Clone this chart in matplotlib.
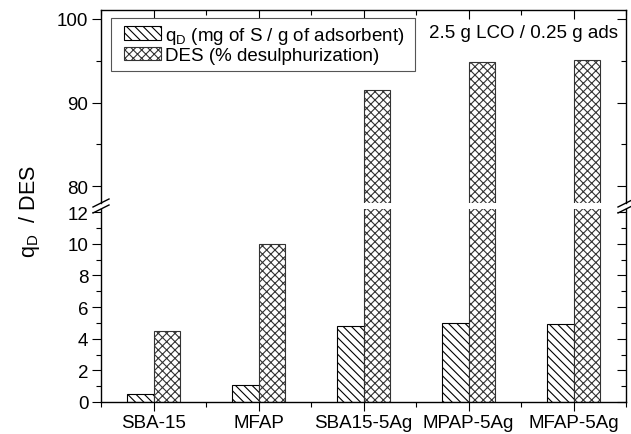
import numpy as np
import matplotlib
matplotlib.use("Agg")
import matplotlib.pyplot as plt
from matplotlib.lines import Line2D
from matplotlib.patches import Rectangle
from matplotlib.ticker import MultipleLocator

# data
samples = ["SBA-15", "MFAP", "SBA15-5Ag", "MPAP-5Ag", "MFAP-5Ag"]
q_d = [0.5, 1.05, 4.78, 4.97, 4.93]          # mg of S / g of adsorbent
des = [4.5, 10.0, 91.5, 94.8, 95.1]          # % desulphurization

plt.rcParams['font.family'] = ['Liberation Sans', 'DejaVu Sans']
plt.rcParams['hatch.linewidth'] = 0.8
plt.rcParams['mathtext.fontset'] = 'custom'
plt.rcParams['mathtext.rm'] = 'Liberation Sans'

W, H = 631, 435
fig = plt.figure(figsize=(W / 100, H / 100), dpi=100)

def fx(px):
    return px / W

def fy(py):
    return 1 - py / H

x_left, x_right = 101, 626
top_px = 11
gap_top, gap_bot = 204, 210
ax_top = fig.add_axes([fx(x_left), fy(gap_top), fx(x_right) - fx(x_left), fy(top_px) - fy(gap_top)])
ax_bot = fig.add_axes([fx(x_left), fy(403), fx(x_right) - fx(x_left), fy(gap_bot) - fy(403)])

x = np.arange(1, len(samples) + 1)
w = 0.25
fs = 13.5
maj, mnr = 6.5, 3.5

for ax in (ax_top, ax_bot):
    ax.bar(x - w / 2, q_d, w, facecolor='white', edgecolor='black', linewidth=0.8,
           hatch='\\\\\\\\', label='q$_\\mathregular{D}$ (mg of S / g of adsorbent)')
    ax.bar(x + w / 2, des, w, facecolor='white', edgecolor='#333333', linewidth=0.8,
           hatch='xxxx', label='DES (% desulphurization)')
    ax.set_xlim(0.5, 5.5)
    for s in ax.spines.values():
        s.set_linewidth(1.0)
    ax.tick_params(which='both', width=0.8, labelsize=fs)
    ax.tick_params(axis='y', which='major', length=maj, direction='out', pad=2.5)
    ax.tick_params(axis='y', which='minor', length=mnr, direction='out')
    ax.set_xticks(x)
    ax.set_xticks(np.arange(0.5, 6, 1), minor=True)

# upper part
ax_top.set_ylim(80 - (gap_top - 187) / 8.35, 100 + (20 - top_px) / 8.35)
ax_top.yaxis.set_major_locator(MultipleLocator(10))
ax_top.yaxis.set_minor_locator(MultipleLocator(5))
ax_top.spines['bottom'].set_visible(False)
ax_top.tick_params(axis='x', which='both', bottom=False, labelbottom=False,
                   top=True, direction='in')
ax_top.tick_params(axis='x', which='major', length=maj)
ax_top.tick_params(axis='x', which='minor', length=mnr)

# lower part
ax_bot.set_ylim(0, 12 + (213 - gap_bot) / 15.83)
ax_bot.yaxis.set_major_locator(MultipleLocator(2))
ax_bot.yaxis.set_minor_locator(MultipleLocator(1))
ax_bot.spines['top'].set_visible(False)
ax_bot.set_xticklabels(samples)
ax_bot.tick_params(axis='x', which='major', length=maj, direction='out', pad=2)
ax_bot.tick_params(axis='x', which='minor', length=mnr, direction='out')

# inward ticks on the right spine
for ax in (ax_top, ax_bot):
    sec = ax.secondary_yaxis('right')
    sec.yaxis.set_major_locator(ax.yaxis.get_major_locator())
    sec.yaxis.set_minor_locator(ax.yaxis.get_minor_locator())
    sec.tick_params(which='major', direction='in', length=maj, width=0.8, labelright=False)
    sec.tick_params(which='minor', direction='in', length=mnr, width=0.8, labelright=False)
    sec.spines['right'].set_visible(False)

# axis break marks
for xb in (x_left, x_right):
    for yb in (gap_top, gap_bot):
        fig.add_artist(Line2D([fx(xb - 8), fx(xb + 8)], [fy(yb + 4), fy(yb - 4)],
                              color='black', linewidth=1.0, transform=fig.transFigure))

# legend with its own frame (wider side padding than matplotlib gives)
ax_top.add_patch(Rectangle((fx(111), fy(72)), fx(415) - fx(111), fy(19) - fy(72),
                           transform=fig.transFigure, facecolor='white', clip_on=False,
                           edgecolor='#555555', linewidth=0.8, zorder=4))
leg = ax_top.legend(loc='upper left',
                    bbox_to_anchor=((117 - x_left) / (x_right - x_left),
                                    (gap_top - 19) / (gap_top - top_px)),
                    borderaxespad=0, fontsize=fs, handlelength=2.0, handleheight=0.7,
                    handletextpad=0.2, labelspacing=0.05, borderpad=0.35,
                    frameon=False)
leg.set_zorder(5)

ax_top.text(0.985, (gap_top - 33) / (gap_top - top_px), '2.5 g LCO / 0.25 g ads',
            transform=ax_top.transAxes, ha='right', va='center', fontsize=fs)

fig.text(fx(30), fy(212), 'q$_\\mathregular{D}$  / DES', rotation=90,
         ha='center', va='center', fontsize=15.5)

fig.savefig('out.png', dpi=100)
